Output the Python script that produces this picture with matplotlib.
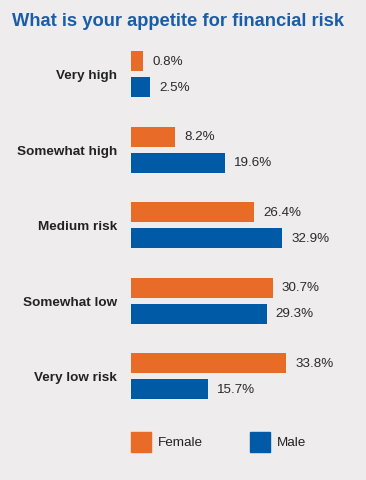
import matplotlib
matplotlib.use("Agg")
import matplotlib.pyplot as plt
from matplotlib.patches import Rectangle

categories = ["Very high", "Somewhat high", "Medium risk", "Somewhat low", "Very low risk"]
female = [0.8, 8.2, 26.4, 30.7, 33.8]
male = [2.5, 19.6, 32.9, 29.3, 15.7]
series_names = ["Female", "Male"]

ORANGE = "#E86C28"
BLUE = "#005AA5"
BG = "#EEECEC"
TITLE_C = "#1A5DA6"
TEXT_C = "#222222"
FONT = ["Liberation Sans", "DejaVu Sans"]
plt.rcParams["font.family"] = FONT

W, H = 366, 481
fig = plt.figure(figsize=(W / 100, H / 100), dpi=100, facecolor=BG)

# axes in pixel geometry
ax_left, ax_right = 131, 366
ax_top, ax_bottom = 40, 420
ax = fig.add_axes([ax_left / W, 1 - ax_bottom / H, (ax_right - ax_left) / W, (ax_bottom - ax_top) / H])
ax.set_facecolor(BG)
for s in ax.spines.values():
    s.set_visible(False)
ax.set_xticks([])
ax.tick_params(axis="y", length=0, pad=10)

px_per_unit = 4.33
base = -2.0
ax.set_xlim(base, base + (ax_right - ax_left) / px_per_unit)
spacing = 75.5
top_units = (75 - ax_top) / spacing
ax.set_ylim(-top_units + (ax_bottom - ax_top) / spacing, -top_units)

bh = 20 / spacing
off = 13 / spacing
ys = list(range(len(categories)))
yf = [y - off for y in ys]
ym = [y + off for y in ys]
bf = ax.barh(yf, [v - base for v in female], left=base, height=bh, color=ORANGE)
bm = ax.barh(ym, [v - base for v in male], left=base, height=bh, color=BLUE)

for bars, vals in ((bf, female), (bm, male)):
    for b, v in zip(bars, vals):
        ax.annotate(f"{v:.1f}%", (v, b.get_y() + b.get_height() / 2),
                    xytext=(6.5, 0), textcoords="offset points",
                    ha="left", va="center", fontsize=9.6, color="#2a2a2a")

ax.set_yticks(ys)
ax.set_yticklabels(categories, fontsize=9.7, fontweight="bold", color=TEXT_C)

fig.text(12 / W, 1 - 22 / H, "What is your appetite for financial risk",
         fontsize=13.2, fontweight="bold", color=TITLE_C, ha="left", va="center")

# legend
for x0, name, col in ((131, series_names[0], ORANGE), (250, series_names[1], BLUE)):
    fig.add_artist(Rectangle((x0 / W, 1 - 453 / H), 20 / W, 20 / H,
                             transform=fig.transFigure, color=col))
    fig.text((x0 + 27) / W, 1 - 443 / H, name, fontsize=9.7, color=TEXT_C,
             ha="left", va="center")

fig.savefig("out.png", dpi=100, facecolor=BG)
